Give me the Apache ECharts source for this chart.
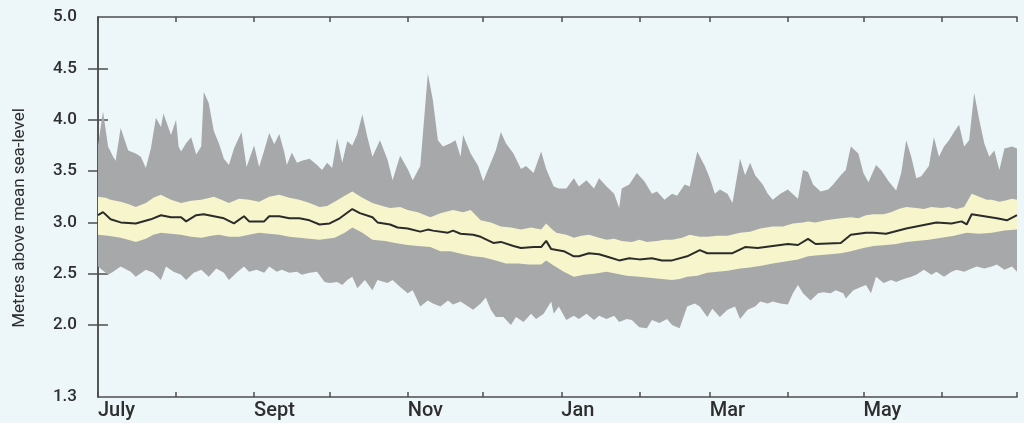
<!DOCTYPE html>
<html>
<head>
<meta charset="utf-8">
<script src="https://cdn.jsdelivr.net/npm/echarts@6/dist/echarts.min.js"></script>
<style>
html,body{margin:0;padding:0;background:#edf6f9;}
#chart{width:1024px;height:423px;}
</style>
</head>
<body>
<div id="chart"></div>
<script>
// Days since 1 July
const monthStarts = [0,31,62,92,123,153,184,215,243,274,304,335,365];
const monthLabelDays = [0,62,123,184,243,304];
const monthLabels = ['July','Sept','Nov','Jan','Mar','May'];
const yTickValues = [2.0,2.5,3.0,3.5,4.0,4.5];
const yLabelValues = [1.3,2.0,2.5,3.0,3.5,4.0,4.5,5.0];

const maxDays = [0,2,4,6,7,9,12,15,17,19,21,23,25,26,29,31,32,33,35,37,39,41,42,44,46,48,50,52,54,57,59,62,64,66,68,70,72,74,75,77,79,81,84,87,89,91,93,95,97,99,101,103,105,107,109,112,115,117,120,123,125,128,131,133,135,137,140,142,144,145,148,151,153,156,158,160,162,165,168,170,173,176,178,181,183,186,189,191,194,197,199,202,205,207,208,211,214,217,220,222,225,228,230,233,235,238,241,243,245,247,250,252,255,257,259,261,264,266,268,271,274,278,280,282,284,287,290,292,295,297,299,302,304,306,309,311,314,317,319,321,323,325,327,330,332,334,336,338,340,342,344,346,348,350,352,354,356,358,360,363,365];
const maxVals = [3.75,4.08,3.74,3.64,3.60,3.92,3.70,3.67,3.64,3.53,3.72,4.02,3.93,4.06,3.85,4.00,3.74,3.69,3.77,3.83,3.66,3.74,4.27,4.16,3.89,3.77,3.62,3.56,3.72,3.88,3.54,3.75,3.54,3.70,3.87,3.76,3.86,3.68,3.56,3.68,3.58,3.60,3.62,3.56,3.51,3.58,3.53,3.82,3.58,3.79,3.75,3.86,4.05,3.83,3.64,3.80,3.61,3.41,3.65,3.52,3.41,3.55,4.45,4.19,3.80,3.74,3.77,3.80,3.64,3.85,3.67,3.55,3.40,3.58,3.70,3.88,3.77,3.67,3.52,3.55,3.48,3.69,3.52,3.35,3.33,3.33,3.43,3.35,3.41,3.33,3.43,3.35,3.28,3.14,3.33,3.37,3.48,3.40,3.28,3.30,3.22,3.28,3.26,3.37,3.35,3.69,3.55,3.43,3.28,3.32,3.28,3.19,3.62,3.46,3.58,3.46,3.37,3.28,3.22,3.28,3.32,3.23,3.51,3.49,3.37,3.30,3.32,3.37,3.46,3.51,3.74,3.67,3.48,3.39,3.56,3.51,3.40,3.31,3.48,3.80,3.64,3.43,3.45,3.55,3.83,3.64,3.74,3.80,3.88,3.95,3.74,3.80,4.26,4.00,3.77,3.64,3.70,3.51,3.72,3.74,3.72];

const minDays = [0,4,6,9,13,15,19,22,25,27,30,33,35,38,41,44,47,50,52,55,58,60,63,66,68,71,73,76,79,81,84,87,90,92,95,97,99,101,103,106,109,111,115,117,120,123,125,128,131,133,136,139,141,144,147,149,152,154,156,158,161,164,166,169,172,174,177,180,181,183,186,189,191,194,197,199,202,205,207,210,212,215,218,220,223,226,228,231,234,237,239,242,244,247,250,253,255,258,261,263,266,268,271,274,276,278,280,283,286,288,291,293,296,297,300,303,305,307,309,312,315,317,320,323,325,328,331,333,336,339,341,344,347,349,352,355,357,360,363,365];
const minVals = [2.57,2.49,2.52,2.57,2.52,2.47,2.54,2.51,2.44,2.57,2.52,2.49,2.44,2.51,2.54,2.47,2.55,2.51,2.44,2.51,2.57,2.52,2.54,2.51,2.57,2.52,2.54,2.51,2.52,2.49,2.51,2.52,2.42,2.41,2.42,2.39,2.44,2.47,2.36,2.44,2.34,2.44,2.41,2.44,2.37,2.31,2.34,2.18,2.24,2.21,2.18,2.24,2.20,2.23,2.18,2.15,2.21,2.27,2.15,2.08,2.08,2.00,2.08,2.03,2.11,2.06,2.11,2.23,2.11,2.18,2.05,2.09,2.06,2.11,2.05,2.09,2.06,2.09,2.03,2.06,2.05,1.98,1.97,2.05,2.02,2.06,2.00,1.97,2.18,2.21,2.18,2.08,2.16,2.08,2.15,2.18,2.06,2.15,2.18,2.23,2.21,2.23,2.21,2.20,2.31,2.39,2.31,2.24,2.31,2.32,2.31,2.34,2.31,2.26,2.34,2.37,2.39,2.31,2.47,2.41,2.44,2.42,2.45,2.47,2.49,2.54,2.49,2.52,2.47,2.52,2.54,2.52,2.55,2.57,2.55,2.57,2.59,2.54,2.57,2.52];

const upperDays = [0,3,5,9,12,15,19,22,25,29,33,37,41,46,49,52,56,60,64,68,72,76,80,84,88,91,94,98,101,105,109,113,116,120,123,127,132,136,141,145,148,152,156,160,164,168,172,176,178,180,182,186,189,192,195,199,202,205,208,212,215,218,222,225,228,232,235,239,242,246,250,255,259,263,268,272,276,280,282,285,289,292,295,299,302,305,308,312,315,318,321,325,328,331,335,338,341,344,347,350,353,355,358,360,363,365];
const upperVals = [3.25,3.24,3.22,3.20,3.18,3.15,3.19,3.24,3.27,3.22,3.19,3.21,3.22,3.25,3.22,3.19,3.23,3.22,3.20,3.25,3.27,3.24,3.22,3.19,3.15,3.16,3.20,3.26,3.30,3.24,3.19,3.16,3.14,3.15,3.12,3.10,3.05,3.09,3.12,3.10,3.12,3.02,3.00,2.96,2.95,2.93,2.95,2.93,2.99,2.94,2.90,2.88,2.85,2.87,2.88,2.85,2.83,2.84,2.82,2.81,2.83,2.81,2.82,2.83,2.83,2.85,2.88,2.86,2.86,2.87,2.87,2.90,2.91,2.94,2.96,2.96,2.99,3.00,3.01,3.00,3.02,3.03,3.04,3.05,3.04,3.07,3.08,3.08,3.10,3.13,3.15,3.14,3.13,3.15,3.14,3.15,3.13,3.15,3.28,3.25,3.22,3.22,3.20,3.21,3.23,3.22];

const lowerDays = [0,4,9,12,15,19,22,25,29,33,37,41,45,48,52,56,60,64,68,72,76,80,84,88,91,94,98,101,105,109,114,118,123,127,132,136,140,145,149,153,158,162,167,171,176,178,181,185,189,193,197,202,206,210,215,219,224,228,231,234,238,242,246,250,255,259,264,268,273,278,282,286,291,295,299,304,308,313,317,321,325,330,335,340,345,350,355,360,365];
const lowerVals = [2.88,2.87,2.85,2.83,2.81,2.84,2.88,2.90,2.89,2.88,2.86,2.85,2.87,2.88,2.86,2.86,2.88,2.90,2.89,2.88,2.86,2.85,2.84,2.83,2.84,2.85,2.90,2.95,2.90,2.83,2.82,2.80,2.78,2.77,2.76,2.72,2.72,2.69,2.67,2.66,2.63,2.60,2.60,2.59,2.59,2.63,2.58,2.52,2.47,2.49,2.50,2.52,2.50,2.48,2.47,2.46,2.45,2.44,2.45,2.47,2.48,2.51,2.52,2.53,2.55,2.56,2.58,2.60,2.62,2.64,2.67,2.68,2.69,2.70,2.72,2.75,2.77,2.78,2.79,2.81,2.82,2.83,2.85,2.87,2.90,2.89,2.90,2.92,2.93];

const meanDays = [0,2,5,9,15,21,25,29,33,35,39,42,46,50,54,58,60,66,68,72,76,80,84,88,92,96,101,104,109,111,116,119,123,128,131,133,139,141,144,149,152,157,160,165,168,173,176,178,180,185,189,191,195,199,203,207,211,215,220,224,228,234,239,242,247,252,257,262,268,274,278,282,285,295,299,305,308,313,321,327,333,339,343,345,347,352,357,361,365];
const meanVals = [3.07,3.10,3.03,3.00,2.99,3.03,3.07,3.05,3.05,3.01,3.07,3.08,3.06,3.04,2.99,3.06,3.01,3.01,3.06,3.06,3.04,3.04,3.02,2.98,2.99,3.04,3.13,3.09,3.05,3.00,2.98,2.95,2.94,2.91,2.93,2.92,2.90,2.92,2.89,2.88,2.86,2.80,2.81,2.77,2.75,2.76,2.76,2.82,2.74,2.72,2.67,2.67,2.70,2.69,2.66,2.63,2.65,2.64,2.65,2.63,2.63,2.67,2.73,2.70,2.70,2.70,2.76,2.75,2.77,2.79,2.78,2.84,2.79,2.80,2.88,2.90,2.90,2.89,2.94,2.97,3.00,2.99,3.01,2.98,3.08,3.06,3.04,3.02,3.07];

const pairs = (d, v) => d.map((x, i) => [x, v[i]]);
const maxPts = pairs(maxDays, maxVals);
const minPts = pairs(minDays, minVals);
const upperPts = pairs(upperDays, upperVals);
const lowerPts = pairs(lowerDays, lowerVals);
const meanPts = pairs(meanDays, meanVals);

function bandSeries(top, bottom, color) {
  return {
    type: 'custom',
    silent: true,
    clip: true,
    data: [[0, 3]],
    renderItem: function (params, api) {
      const pts = top.map(p => api.coord(p)).concat(bottom.slice().reverse().map(p => api.coord(p)));
      return { type: 'polygon', shape: { points: pts }, style: { fill: color } };
    }
  };
}

const axisColor = '#4d4d4d';
const textColor = '#2e2e2e';
const font = 'Roboto, "Liberation Sans", sans-serif';

const chart = echarts.init(document.getElementById('chart'), null, { renderer: 'canvas' });
chart.setOption({
  backgroundColor: '#edf6f9',
  animation: false,
  grid: { left: 98, right: 7, top: 17, bottom: 26, containLabel: false },
  xAxis: [
    {
      type: 'value', position: 'bottom', min: 0, max: 365,
      axisLine: { show: true, lineStyle: { color: axisColor, width: 1.5 } },
      axisTick: { show: true, inside: true, length: 5, customValues: monthStarts, lineStyle: { color: axisColor, width: 1.5 } },
      axisLabel: {
        show: true, customValues: monthLabelDays, align: 'left', margin: 4,
        color: textColor, fontFamily: font, fontWeight: 500, fontSize: 20,
        formatter: v => monthLabels[monthLabelDays.indexOf(v)]
      },
      splitLine: { show: false }
    },
    {
      type: 'value', position: 'top', min: 0, max: 365,
      axisLine: { show: true, lineStyle: { color: axisColor, width: 1.5 } },
      axisTick: { show: true, inside: true, length: 5, customValues: monthStarts, lineStyle: { color: axisColor, width: 1.5 } },
      axisLabel: { show: false },
      splitLine: { show: false }
    }
  ],
  yAxis: [
    {
      type: 'value', position: 'left', min: 1.3, max: 5.0,
      name: 'Metres above mean sea-level', nameLocation: 'middle', nameGap: 70, nameRotate: 90,
      nameTextStyle: { color: textColor, fontFamily: font, fontSize: 17, padding: [0, 22, 0, 0] },
      axisLine: { show: true, lineStyle: { color: axisColor, width: 1.5 } },
      axisTick: { show: true, inside: true, length: 10, customValues: yTickValues, lineStyle: { color: axisColor, width: 1.5 } },
      axisLabel: { show: true, customValues: yLabelValues, margin: 21, color: textColor, fontFamily: font, fontWeight: 500, fontSize: 17, formatter: v => v.toFixed(1) },
      splitLine: { show: false }
    },
    {
      type: 'value', position: 'right', min: 1.3, max: 5.0,
      axisLine: { show: true, lineStyle: { color: axisColor, width: 1.5 } },
      axisTick: { show: true, inside: true, length: 10, customValues: yTickValues, lineStyle: { color: axisColor, width: 1.5 } },
      axisLabel: { show: false },
      splitLine: { show: false }
    }
  ],
  series: [
    bandSeries(maxPts, minPts, '#a7a8aa'),
    bandSeries(upperPts, lowerPts, '#f7f5cb'),
    {
      type: 'line', data: meanPts, showSymbol: false, symbol: 'none', silent: true,
      lineStyle: { color: '#2b2b2b', width: 2 }
    }
  ]
});
</script>
</body>
</html>
